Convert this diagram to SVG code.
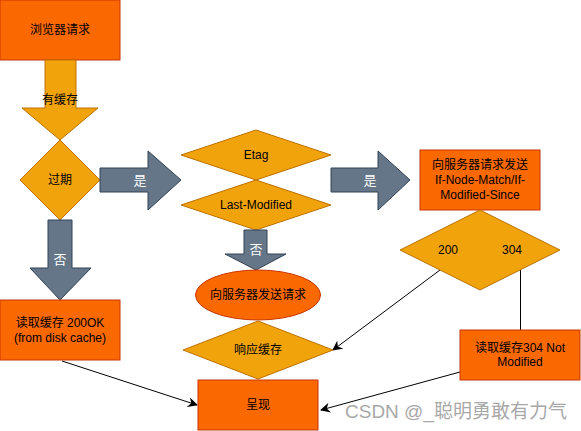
<svg xmlns="http://www.w3.org/2000/svg" width="581" height="431" viewBox="0 0 581 431">
<defs>
<style>
.o{fill:#fa6800;stroke:#c73500;stroke-width:1}
.y{fill:#f0a30a;stroke:#bd7000;stroke-width:1}
.g{fill:#647687;stroke:#314354;stroke-width:1}
text{font-family:"Liberation Sans","Noto Sans CJK SC",Arial,sans-serif;font-size:12px;fill:#000;text-anchor:middle;dominant-baseline:central}
.w{fill:#fff;font-size:13px}
.ln{stroke:#000;stroke-width:1;fill:none}
.wm{fill:#a8a8a8;font-size:19px;text-anchor:start}
</style>
<marker id="ah" markerWidth="10" markerHeight="10" refX="9" refY="5" orient="auto" markerUnits="userSpaceOnUse">
<path d="M0,0 L10,5 L0,10 L3,5 Z" fill="#000"/>
</marker>
</defs>
<g id="connectors">
<path class="ln" d="M62,361 L197,405" marker-end="url(#ah)"/>
<path class="ln" d="M440,270 L333,350" marker-end="url(#ah)"/>
<path class="ln" d="M520.5,270 L520.5,330"/>
<path class="ln" d="M460,372 L321,410" marker-end="url(#ah)"/>
</g>
<g id="n-browser"><rect class="o" x="0" y="0" width="120" height="60"/><text x="60" y="30">浏览器请求</text></g>
<g id="a-cache"><path class="y" d="M45,60 L76,60 L76,108 L98,108 L60,140 L22,108 L45,108 Z"/><text x="60" y="100">有缓存</text></g>
<g id="n-expired"><path class="y" d="M60,140 L100,180 L60,220 L20,180 Z"/><text x="60" y="180">过期</text></g>
<g id="a-yes1"><path class="g" d="M100,168 L148,168 L148,151 L181,180 L148,210 L148,192 L100,192 Z"/><text class="w" x="140" y="180">是</text></g>
<g id="a-no1"><path class="g" d="M48,220 L72,220 L72,268 L91,268 L60,300 L30,268 L48,268 Z"/><text class="w" x="60" y="259">否</text></g>
<g id="n-200ok"><rect class="o" x="0" y="300" width="120" height="60"/><text x="60" y="323">读取缓存 200OK</text><text x="60" y="338">(from disk cache)</text></g>
<g id="n-etag"><path class="y" d="M256,130 L331,155 L256,180 L181,155 Z"/><text x="256" y="155">Etag</text></g>
<g id="n-lastmod"><path class="y" d="M256,180 L331,205 L256,230 L181,205 Z"/><text x="256" y="205">Last-Modified</text></g>
<g id="a-yes2"><path class="g" d="M331,168 L378,168 L378,151 L410,180 L378,210 L378,192 L331,192 Z"/><text class="w" x="370" y="180">是</text></g>
<g id="a-no2"><path class="g" d="M244,230 L267,230 L267,254 L286,254 L256,270 L225,254 L244,254 Z"/><text class="w" x="256" y="249">否</text></g>
<g id="n-send"><ellipse class="o" cx="258" cy="295" rx="62.5" ry="25"/><text x="258" y="295">向服务器发送请求</text></g>
<g id="n-respcache"><path class="y" d="M258,321 L333,350 L258,379 L183,350 Z"/><text x="258" y="350">响应缓存</text></g>
<g id="n-render"><rect class="o" x="198" y="380" width="120" height="50"/><text x="258" y="405">呈现</text></g>
<g id="n-req2"><rect class="o" x="420" y="150" width="120" height="60"/><text x="480" y="165">向服务器请求发送</text><text x="480" y="180">If-Node-Match/If-</text><text x="480" y="195">Modified-Since</text></g>
<g id="n-status"><path class="y" d="M480,210 L560,250 L480,290 L400,250 Z"/><text x="448" y="250">200</text><text x="512" y="250">304</text></g>
<g id="n-304"><rect class="o" x="460" y="330" width="120" height="50"/><text x="520" y="348">读取缓存304 Not</text><text x="520" y="362">Modified</text></g>
<text class="wm" x="345" y="411">CSDN @_聪明勇敢有力气</text>
</svg>
